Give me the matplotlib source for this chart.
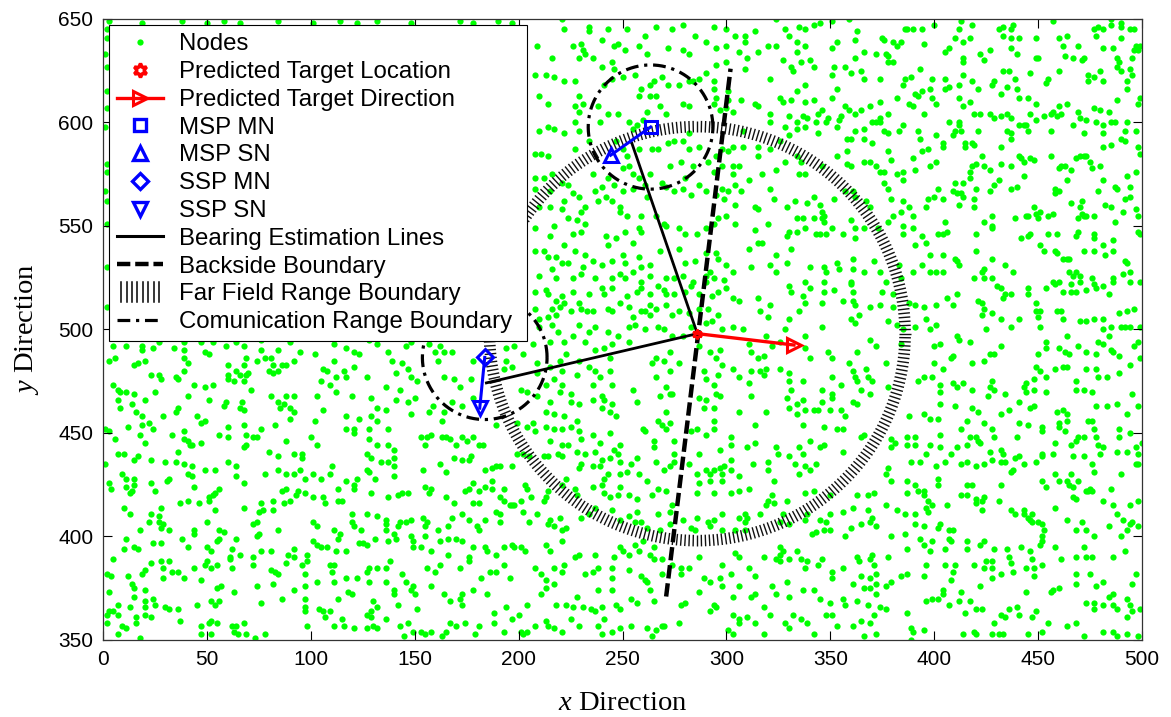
import matplotlib
matplotlib.use("Agg")
import matplotlib.pyplot as plt
import numpy as np
from matplotlib.lines import Line2D
from matplotlib.collections import LineCollection
from matplotlib.legend_handler import HandlerBase

plt.rcParams['font.family'] = ['Liberation Sans', 'DejaVu Sans']
plt.rcParams['mathtext.fontset'] = 'custom'
plt.rcParams['mathtext.rm'] = 'Liberation Serif'
plt.rcParams['mathtext.it'] = 'Liberation Serif:italic'

# ---------------- data ----------------
# deployed sensor nodes (x, y)
node_xy = [
    # strip along the top and left edges
    (3,649),(19,648),(38,649),(50,648),(58,649),(66,648),(84,649),(101,648),(114,649),(122,648),(132,649),
    (148,648),(172,649),(178,648),(190,649),(197,648),
    (2,645),(2,641),(1,633),(2,627),(2,615),(2,607),(1,598),(2,580),(2,576),(1,567),(2,562),(2,551),(2,530),(2,511),
    # x 0-125, y 350-496
    (5,492),(11,492),(19,492),(19,490),(24,491),(27,494),(34,491),(39,494),(39,490),(47,494),(53,494),(59,492),
    (64,494),(68,492),(76,495),(76,490),(84,490),(90,494),(95,489),(102,488),(111,493),(117,491),(121,489),(123,488),
    (3,485),(6,486),(20,485),(15,483),(17,484),(41,484),(39,486),(49,489),(51,488),(60,483),(68,483),(69,486),
    (74,485),(78,486),(81,486),(82,483),(86,483),(88,483),(92,485),(106,481),(108,480),(111,485),(116,480),(121,482),
    (23,478),(27,478),(28,476),(35,477),(36,476),(39,480),(60,478),(60,476),(64,480),(66,478),(69,478),(70,479),
    (63,475),(68,475),(80,480),(82,479),(84,480),(105,475),(112,477),(117,477),(109,473),
    (5,473),(7,471),(8,470),(11,470),(15,469),(25,470),(44,473),(49,472),(53,473),(71,471),(41,468),(51,466),
    (81,468),(88,468),(92,468),(103,468),(112,470),(120,468),
    (7,466),(14,464),(16,460),(20,466),(59,465),(58,463),(67,465),(66,462),(68,461),(84,465),(85,462),(87,464),
    (90,462),(92,460),(36,462),(35,460),(8,462),(19,458),(29,458),(45,458),(47,455),(49,456),(90,457),(106,461),
    (19,454),(22,455),(24,452),(18,449),(12,453),(3,451),(1,452),(33,449),(39,451),(39,447),(41,446),(42,444),
    (47,445),(56,449),(60,453),(60,448),(68,454),(69,449),(72,448),(74,448),(76,452),(83,454),(88,446),(102,456),
    (117,458),(123,457),(117,452),(121,452),(121,450),(100,448),(69,444),(68,443),
    (6,447),(20,445),(36,441),(43,444),(7,440),(10,440),(17,439),(15,437),(23,437),(30,436),(35,436),(39,435),
    (43,434),(49,432),(54,432),(60,436),(64,434),(80,441),(84,439),(92,440),(96,440),(96,438),(103,444),(110,434),(1,435),
    (9,430),(11,428),(15,428),(3,426),(4,423),(11,424),(15,425),(14,422),(23,426),(31,427),(32,428),(41,430),
    (43,429),(44,424),(54,421),(56,423),(64,429),(68,426),(78,430),(84,432),(88,430),(92,430),(95,432),(97,428),
    (101,430),(105,428),(109,430),(113,423),(117,427),(121,425),(122,428),(121,423),
    (13,421),(25,422),(37,416),(41,417),(46,416),(51,419),(51,417),(53,420),(68,414),(76,416),(77,413),(75,412),
    (82,413),(82,417),(87,416),(86,422),(88,423),(90,417),(93,420),(94,422),(97,421),(101,419),(106,419),(107,416),
    (113,417),(115,417),(10,414),(13,411),(28,414),(54,413),(120,411),
    (23,411),(27,410),(27,407),(29,406),(22,407),(28,404),(32,403),(18,403),(44,403),(44,401),(50,407),(56,403),
    (58,402),(55,398),(64,399),(72,406),(74,407),(74,400),(75,401),(84,403),(101,407),(103,405),(111,403),(114,401),
    (113,399),(120,407),(121,405),(124,403),(125,397),
    (11,399),(10,394),(15,395),(17,394),(24,397),(28,397),(38,399),(41,395),(50,395),(52,393),(56,399),(62,394),
    (61,390),(66,391),(72,390),(76,393),(81,393),(92,394),(89,391),(98,391),(101,398),(103,396),(105,395),(108,395),
    (112,393),(117,393),(123,397),
    (5,389),(2,382),(4,381),(12,381),(19,382),(20,384),(23,387),(28,388),(29,385),(32,388),(33,383),(36,383),
    (44,385),(49,386),(50,388),(52,385),(55,386),(61,389),(62,385),(72,386),(81,384),(83,383),(84,382),(88,387),
    (92,390),(96,386),(98,388),(97,382),(109,386),(111,386),(110,383),(117,380),(122,380),
    (14,377),(15,375),(20,374),(24,370),(29,380),(39,380),(47,379),(55,375),(57,376),(63,373),(74,376),(82,377),
    (86,370),(92,374),(97,376),(103,378),(111,378),(113,370),(118,373),(120,372),(3,373),(20,369),
    (7,367),(3,364),(7,362),(15,371),(20,366),(25,367),(30,366),(32,365),(36,365),(45,367),(52,369),(54,367),
    (56,369),(76,368),(97,370),(97,366),(97,364),(104,365),(106,364),(109,364),(107,361),(2,362),(5,364),(13,366),
    (16,361),(20,362),(23,361),
    (2,358),(9,357),(11,356),(7,353),(16,358),(18,351),(37,359),(47,357),(51,358),(52,359),(55,358),(47,353),
    (52,353),(62,357),(64,357),(68,358),(63,354),(65,353),(69,353),(73,351),(78,353),(98,357),(111,357),(115,360),
    (116,357),(121,356),
    # x 125-250, y 350-496
    (128,495),(137,489),(139,485),(132,493),(146,492),(148,494),(157,493),(162,492),(160,489),(164,489),(168,489),
    (161,485),(178,485),(194,491),(198,492),(202,488),(207,493),(215,494),(222,494),(223,488),(232,494),(237,490),
    (241,491),(245,493),(244,486),(229,485),(234,482),
    (127,477),(136,472),(141,479),(144,484),(147,481),(148,477),(143,471),(151,475),(164,477),(169,476),(177,476),
    (172,472),(193,481),(194,485),(197,482),(209,484),(209,479),(215,482),(220,485),(221,480),(217,476),(221,473),
    (213,473),(228,478),(244,480),(245,473),(239,477),(236,473),(237,480),
    (129,467),(132,462),(129,458),(136,461),(141,466),(147,465),(150,467),(148,459),(157,460),(159,463),(164,460),
    (163,456),(168,465),(173,463),(178,467),(201,471),(204,470),(209,468),(215,465),(217,459),(213,460),(225,465),
    (229,464),(236,466),(240,468),(241,466),(240,462),(245,464),(244,460),(247,458),(228,456),(222,458),(220,470),(225,469),
    (132,456),(128,452),(137,452),(128,447),(132,444),(137,444),(140,442),(153,448),(156,448),(158,449),(155,444),
    (163,448),(165,448),(167,447),(170,444),(173,448),(175,446),(178,448),(181,444),(183,444),(189,454),(199,455),
    (204,453),(207,455),(208,451),(213,453),(217,452),(221,452),(225,453),(229,451),(236,449),(244,450),(230,447),
    (215,446),(224,444),(221,444),(239,445),(249,444),(246,442),
    (127,440),(129,438),(134,436),(137,436),(140,434),(140,438),(127,432),(128,431),(140,429),(154,432),(162,435),
    (165,431),(169,438),(173,437),(176,437),(177,439),(187,433),(189,434),(191,434),(184,432),(197,434),(199,440),
    (202,440),(205,439),(212,439),(214,439),(219,440),(221,439),(228,441),(232,440),(237,441),(240,437),(239,434),
    (244,438),(248,440),(249,436),(229,433),(230,435),(236,434),(243,430),(249,430),(241,428),(223,428),
    (131,428),(129,421),(137,419),(142,420),(144,421),(147,421),(155,424),(157,421),(158,423),(165,419),(169,416),
    (176,423),(174,422),(178,426),(181,422),(184,424),(187,427),(187,423),(191,419),(193,423),(203,425),(204,423),
    (206,419),(213,419),(214,422),(221,425),(227,423),(228,420),(236,424),(240,425),(244,419),(248,420),(249,424),
    (241,421),(178,416),(181,416),(193,417),(197,415),(201,417),(212,417),
    (127,411),(132,410),(136,408),(142,405),(143,407),(136,406),(140,401),(146,407),(148,408),(148,400),(155,405),
    (156,407),(161,403),(154,409),(166,405),(168,409),(173,411),(176,408),(180,405),(181,403),(184,408),(189,412),
    (191,411),(191,407),(196,415),(198,415),(202,412),(205,407),(209,411),(214,406),(215,408),(217,405),(221,403),
    (223,404),(220,409),(230,409),(234,411),(237,414),(245,413),(249,408),
    (127,396),(131,399),(136,403),(137,398),(141,399),(149,398),(153,395),(149,395),(155,400),(158,393),(162,398),
    (166,399),(170,399),(173,398),(166,391),(176,390),(178,395),(184,395),(185,393),(189,391),(193,395),(197,396),
    (198,395),(201,395),(203,393),(213,396),(215,393),(221,398),(227,390),(229,391),(237,391),(246,390),(249,395),(250,393),
    (128,385),(127,383),(132,385),(136,385),(138,388),(128,378),(136,378),(144,382),(146,378),(156,385),(160,383),
    (162,386),(172,385),(176,388),(182,380),(186,383),(189,383),(193,386),(196,380),(208,385),(211,382),(217,385),
    (213,379),(221,383),(222,386),(232,382),(236,383),(238,385),(245,385),(245,380),
    (130,369),(132,366),(129,364),(140,374),(140,372),(142,367),(148,374),(149,376),(150,372),(151,365),(158,376),
    (164,372),(167,369),(172,370),(173,367),(173,372),(178,374),(185,372),(188,363),(194,366),(200,362),(204,367),
    (211,372),(213,375),(217,377),(218,367),(223,367),(226,366),(228,371),(231,366),(235,365),(237,364),(240,366),
    (245,374),(247,367),(249,365),(238,374),
    (127,362),(129,361),(130,357),(127,356),(132,356),(136,360),(143,357),(147,358),(149,354),(153,354),(155,353),
    (145,352),(158,354),(163,352),(165,354),(167,358),(170,357),(174,358),(179,353),(181,357),(188,358),(193,354),
    (197,360),(201,354),(202,353),(204,354),(208,357),(213,359),(214,357),(217,356),(221,354),(225,360),(229,357),
    (238,357),(241,360),(240,353),(245,354),(249,356),
    # x 250-375, y 350-496
    (253,494),(264,484),(266,486),(270,485),(273,489),(277,484),(287,492),(292,489),(297,490),(295,486),(311,493),
    (312,489),(315,486),(318,487),(322,492),(326,494),(338,491),(340,486),(349,489),(351,486),(359,484),(363,489),
    (369,495),(372,492),
    (255,471),(266,477),(271,472),(273,480),(274,469),(289,480),(290,476),(294,473),(296,478),(295,469),(298,483),
    (303,481),(306,477),(311,474),(312,480),(316,480),(318,478),(319,481),(326,481),(330,479),(330,475),(331,471),
    (337,475),(346,471),(351,477),(351,469),(355,473),(361,480),(362,477),(363,475),(367,481),(368,477),(370,475),
    (365,471),(369,469),(361,465),
    (257,465),(268,468),(273,469),(271,460),(267,456),(269,454),(273,455),(287,467),(290,466),(289,462),(294,462),
    (297,468),(294,456),(306,460),(312,468),(319,460),(329,467),(330,462),(334,464),(337,466),(338,461),(342,461),
    (344,461),(346,465),(350,461),(351,467),(355,461),(357,458),(363,464),(356,452),(353,452),(347,453),(337,454),
    (314,454),(334,459),
    (260,452),(265,446),(265,443),(261,451),(271,452),(275,446),(275,440),(283,451),(286,452),(290,449),(294,452),
    (287,440),(297,442),(302,448),(302,444),(310,443),(314,445),(324,443),(325,440),(330,439),(335,443),(337,440),
    (340,446),(345,443),(347,444),(356,441),(365,448),(366,449),
    (252,431),(257,438),(254,435),(258,430),(262,427),(266,436),(270,432),(273,434),(275,436),(282,435),(290,432),
    (292,430),(294,432),(297,433),(299,434),(302,437),(302,432),(298,430),(306,429),(313,435),(320,436),(320,432),
    (323,427),(333,435),(335,430),(338,434),(340,432),(343,435),(287,426),(292,427),(298,427),(286,430),
    (253,420),(257,418),(264,420),(267,423),(271,422),(274,415),(273,412),(286,421),(294,421),(302,421),(306,422),
    (311,423),(320,417),(322,420),(319,415),(323,416),(329,417),(338,421),(342,422),(350,420),(361,414),(363,420),
    (368,420),(371,421),(368,413),(370,409),(257,412),(253,410),(267,411),(279,408),(286,409),(291,407),(294,408),
    (298,411),(306,409),(309,411),(310,409),(309,407),(316,411),(327,411),(339,411),(345,408),(348,407),(350,411),(356,412),
    (256,407),(259,407),(262,404),(268,403),(273,406),(283,404),(285,403),(292,405),(298,403),(304,403),(309,403),
    (326,407),(330,406),(338,408),(341,401),(343,402),(347,403),(350,403),(357,400),(360,404),(365,406),(369,407),
    (372,405),(260,398),(256,396),(265,395),(326,395),(327,393),(334,393),
    (253,391),(258,393),(263,391),(265,389),(269,389),(274,386),(278,385),(282,385),(287,390),(298,386),(302,382),
    (304,392),(306,390),(311,385),(314,381),(318,390),(324,389),(326,391),(326,388),(330,389),(336,389),(338,385),
    (339,388),(344,386),(346,389),(351,383),(351,380),(356,385),(363,390),(364,388),(370,391),(369,389),(371,386),
    (372,382),(369,380),(365,381),(253,384),(259,381),(261,379),(262,378),(269,382),(278,382),(289,380),(297,380),
    (254,370),(257,368),(263,374),(265,369),(278,367),(280,368),(287,373),(292,378),(294,367),(298,376),(303,371),
    (306,376),(312,371),(314,372),(318,366),(322,376),(324,372),(329,378),(330,371),(337,374),(342,374),(345,370),
    (350,368),(356,370),(357,367),(361,377),(366,375),(369,375),(372,372),(372,377),(368,367),(374,366),(363,369),
    (254,357),(262,356),(266,355),(269,357),(270,357),(277,358),(264,352),(292,364),(295,366),(303,362),(306,358),
    (306,360),(310,361),(314,358),(318,353),(321,362),(328,358),(330,356),(332,362),(336,360),(339,358),(342,353),
    (348,362),(351,362),(353,357),(361,357),(365,359),(369,358),(371,362),(372,353),(366,352),(303,353),(301,355),
    # x 375-500, y 350-496
    (384,493),(400,492),(403,493),(412,495),(417,494),(432,492),(454,494),(454,491),(450,488),(460,491),(463,489),
    (465,488),(469,492),(473,489),(479,494),(481,493),(478,488),(485,490),(486,489),(489,487),(496,492),(498,494),
    (499,486),(408,486),(409,487),(424,485),(427,488),(429,488),
    (377,484),(400,484),(404,481),(418,484),(449,482),(451,480),(454,477),(458,481),(462,482),(464,482),(473,481),
    (478,481),(483,477),(489,479),(494,483),(392,475),(395,477),(399,477),(409,474),(414,474),(428,475),(444,474),
    (448,476),(468,475),
    (378,472),(403,473),(403,470),(411,472),(418,471),(427,472),(429,471),(426,468),(434,469),(443,472),(444,470),
    (448,471),(454,470),(468,471),(472,471),(476,470),(479,477),(495,469),(403,464),(410,463),(418,462),(421,460),
    (432,459),(436,461),(441,465),(446,462),(448,463),(459,460),(462,461),(464,459),(478,463),(483,463),(488,464),
    (493,459),(498,463),
    (388,458),(395,459),(398,457),(402,457),(416,456),(424,455),(428,452),(441,455),(445,454),(460,455),(460,453),
    (464,456),(474,456),(476,456),(477,452),(489,452),(379,447),(387,448),(391,448),(403,449),(413,452),(417,448),
    (420,448),(422,445),(429,448),(440,448),(452,453),(452,451),(463,451),(469,448),(468,446),(478,448),(479,444),
    (489,448),(494,450),
    (381,445),(379,443),(387,444),(391,444),(398,444),(403,443),(408,440),(411,443),(416,444),(421,446),(427,441),
    (432,442),(433,440),(434,436),(439,438),(441,439),(449,436),(452,440),(452,439),(458,445),(457,440),(466,444),
    (467,439),(472,448),(472,439),(476,435),(480,440),(481,443),(488,441),(493,441),(497,443),(498,440),(500,445),
    (497,435),(389,436),(393,436),(396,440),(401,434),(405,436),(413,435),(416,436),(420,434),(424,435),(428,437),
    (432,436),(437,431),
    (378,433),(377,430),(379,427),(387,427),(391,425),(395,422),(402,428),(402,425),(416,425),(418,425),(432,425),
    (438,432),(443,435),(452,427),(454,424),(458,430),(460,427),(464,427),(465,425),(467,424),(466,430),(469,427),
    (474,422),(475,423),(477,431),(485,423),(490,430),(498,435),
    (377,415),(387,421),(382,413),(386,411),(391,411),(392,422),(395,420),(397,417),(396,414),(397,412),(399,415),
    (406,415),(413,420),(416,420),(420,418),(420,416),(423,417),(424,419),(423,413),(431,417),(437,413),(439,411),
    (443,413),(443,411),(445,409),(446,408),(450,407),(447,411),(458,414),(464,408),(467,419),(468,418),(473,422),
    (476,422),(481,417),(486,415),(488,411),(491,408),(494,415),(498,417),(495,407),
    (391,406),(395,405),(403,406),(402,404),(407,403),(409,403),(379,400),(386,401),(393,399),(399,398),(398,393),
    (407,399),(408,398),(416,398),(424,398),(422,396),(447,407),(452,406),(453,403),(452,400),(452,398),(458,395),
    (468,403),(471,407),(473,403),(477,400),(484,405),(490,400),(493,403),(494,406),(498,405),
    (378,390),(387,394),(395,396),(405,394),(416,394),(429,394),(435,394),(436,390),(437,387),(442,395),(447,389),
    (446,393),(451,396),(461,389),(468,390),(472,395),(473,390),(476,390),(486,390),(492,393),(396,386),(405,386),
    (410,386),(409,383),(419,386),(424,385),(425,388),(428,388),(428,385),(432,382),(438,383),(444,385),(448,385),
    (448,381),(452,386),
    (377,376),(379,378),(384,381),(387,382),(395,381),(404,374),(404,372),(408,379),(413,373),(422,376),(428,380),
    (444,373),(456,373),(457,374),(460,375),(468,382),(468,377),(475,382),(478,376),(481,378),(484,371),(486,372),
    (495,377),(497,382),(396,369),(399,370),(402,370),(407,367),(412,369),(417,369),(377,365),(387,363),
    (473,368),(477,368),(477,365),(481,367),(486,367),(488,365),(493,370),(494,367),(493,361),(495,364),(499,365),
    (415,363),(420,365),(423,365),(432,362),(434,361),(436,365),(440,366),(441,362),(447,361),(449,364),(455,358),
    (464,357),(468,358),(389,356),(390,354),(395,355),(414,353),(419,354),(420,353),(429,358),(428,353),(431,353),
    (433,353),(445,353),(452,354),(472,352),(481,354),(486,354),(488,352),(493,353),(498,352),(389,350),
    # x 206-305, y 496-650
    (221,650),(222,645),(234,646),(234,644),(240,640),(243,645),(246,637),(248,638),(252,645),(261,642),(266,646),
    (274,645),(279,647),(285,642),(290,639),(294,646),(300,645),(304,642),(209,637),(216,631),(226,637),(229,631),
    (230,638),(231,635),(232,633),(236,631),(240,627),(245,629),(246,626),(251,635),(258,637),(262,633),(272,636),
    (279,635),(282,633),(295,636),(300,637),(210,613),
    (208,623),(213,623),(217,622),(222,620),(227,620),(229,613),(241,618),(245,621),(250,622),(256,623),(259,616),
    (263,618),(263,613),(266,613),(269,622),(272,618),(277,618),(282,620),(284,620),(287,621),(290,624),(294,620),
    (295,628),(300,629),(294,616),(295,612),(301,615),(258,613),(265,620),
    (214,609),(227,608),(229,605),(231,609),(238,608),(239,600),(243,604),(248,604),(253,600),(255,597),(257,599),
    (260,601),(262,605),(268,608),(271,604),(279,609),(282,608),(294,609),(297,606),(300,607),(301,611),(303,605),
    (214,598),(210,596),(217,597),(222,595),(227,600),(229,596),(282,595),
    (208,585),(211,585),(214,584),(227,587),(234,591),(247,591),(250,587),(252,584),(258,587),(264,587),(267,587),
    (272,590),(275,591),(279,591),(282,587),(287,588),(298,587),(301,586),(303,588),(295,584),(273,579),(278,581),
    (284,579),(291,581),(294,576),(298,579),(303,579),(303,575),(280,573),(253,579),(250,578),(255,575),(258,573),
    (263,575),(261,570),
    (208,573),(212,573),(216,575),(208,568),(215,567),(221,571),(224,570),(222,562),(226,566),(229,564),(236,575),
    (237,567),(240,569),(242,564),(243,573),(246,570),(250,567),(255,568),(262,564),(269,571),(271,569),(275,567),
    (279,568),(283,565),(287,570),(290,567),(295,565),(298,568),(299,563),(301,567),(304,570),
    (210,559),(215,559),(221,558),(224,554),(228,553),(230,557),(232,559),(238,562),(245,562),(249,559),(249,557),
    (252,555),(259,555),(266,555),(270,551),(271,550),(277,549),(280,546),(286,546),(290,549),(294,551),(296,554),
    (300,555),(304,560),(304,551),(208,549),(215,545),(217,550),(222,541),(226,546),(230,547),(232,551),(242,545),
    (243,541),(247,544),(251,547),(255,542),(258,549),(259,547),
    (208,538),(212,538),(214,535),(218,535),(221,532),(224,532),(227,538),(232,536),(231,530),(236,533),(240,531),
    (245,533),(250,536),(251,532),(258,535),(259,530),(263,531),(268,538),(277,539),(280,532),(285,533),(290,537),
    (292,528),(295,537),(296,534),(300,531),(303,528),(210,526),(216,529),(218,525),(226,525),(230,527),(237,525),
    (245,525),(249,527),(251,525),(255,528),(259,523),(263,526),(271,525),(275,525),(279,526),(284,523),(290,526),
    (290,523),(294,525),(299,524),
    (208,518),(213,519),(214,517),(218,514),(221,516),(222,513),(226,518),(229,513),(234,517),(240,520),(241,517),
    (245,520),(252,516),(257,518),(259,520),(263,517),(267,521),(270,519),(271,517),(275,517),(280,518),(283,521),
    (287,517),(293,516),(296,518),(300,520),(303,515),(208,510),(210,505),(214,506),(216,510),(218,507),(220,511),
    (225,509),(230,510),(233,509),(236,509),(243,510),(245,509),(249,513),(253,511),(255,506),(259,509),(261,509),
    (263,512),(266,510),(263,507),(271,512),(274,507),(277,509),(282,508),(287,510),(291,510),(296,507),(210,501),
    (216,502),(219,499),(226,497),(229,502),(234,499),(237,501),(243,499),(248,497),(253,501),(256,502),(261,500),
    (267,501),(270,500),(274,497),(279,497),(283,501),(290,503),(293,504),(298,500),(303,501),
    # x 305-402, y 496-650
    (324,650),(328,645),(330,642),(335,646),(338,645),(342,647),(345,648),(351,649),(359,650),(363,644),(362,640),
    (353,639),(309,642),(309,639),(314,644),(306,634),(315,634),(320,637),(324,637),(334,639),(338,637),(351,636),
    (366,634),(372,633),(375,641),(376,640),(380,639),(382,637),(384,639),(386,645),(387,645),(390,645),(394,645),
    (395,638),(400,647),
    (310,631),(309,626),(321,621),(327,630),(331,627),(332,625),(334,634),(336,629),(340,630),(342,627),(338,618),
    (351,623),(352,627),(357,627),(360,624),(362,631),(365,625),(366,621),(374,621),(377,633),(378,632),(378,629),
    (380,629),(393,626),(385,618),(386,621),(389,622),(392,613),(399,621),(314,609),(307,611),
    (315,608),(321,604),(326,612),(327,610),(331,611),(330,603),(334,615),(338,610),(342,611),(344,604),(346,606),
    (351,612),(353,616),(357,608),(359,606),(362,604),(365,606),(369,608),(374,610),(382,612),(388,609),(390,608),
    (391,614),(394,615),(398,616),(395,604),(401,609),(399,612),(370,600),
    (308,596),(308,588),(315,588),(321,600),(326,591),(328,598),(330,594),(334,597),(334,600),(338,598),(337,603),
    (339,602),(343,600),(344,595),(348,600),(349,602),(353,598),(354,601),(355,603),(358,592),(360,592),(362,596),
    (366,597),(366,592),(370,590),(372,600),(374,600),(374,602),(378,604),(376,596),(378,595),(383,596),(385,599),
    (392,596),(393,592),(401,594),
    (306,579),(315,584),(321,587),(324,577),(328,581),(334,584),(336,581),(338,575),(346,579),(353,584),(358,586),
    (358,580),(360,579),(366,581),(369,581),(372,579),(374,576),(378,586),(379,582),(382,575),(385,576),(376,576),
    (385,572),(391,577),(394,586),(397,587),(398,579),(401,581),(390,583),(311,572),(317,575),(321,568),(335,575),
    (307,567),(314,559),(315,558),(323,563),(329,559),(333,562),(334,554),(339,561),(342,564),(345,560),(346,557),
    (347,555),(347,552),(352,563),(357,567),(361,567),(362,564),(367,562),(369,559),(376,571),(378,568),(379,563),
    (380,555),(385,562),(388,559),(390,555),(396,559),(397,563),(400,564),(402,568),
    (314,548),(315,542),(317,542),(320,551),(329,545),(330,547),(334,547),(337,554),(338,549),(342,554),(343,546),
    (345,546),(348,546),(346,554),(351,549),(356,546),(360,553),(362,549),(362,544),(366,549),(373,549),(378,552),
    (384,557),(390,549),(394,545),(391,541),(396,542),(402,546),(385,550),(385,546),(311,539),(324,536),
    (312,530),(321,531),(324,528),(329,532),(331,539),(340,530),(347,530),(348,528),(353,532),(354,529),(361,534),
    (361,529),(360,523),(366,528),(371,533),(374,528),(377,523),(383,531),(384,525),(390,528),(394,531),(398,536),
    (398,528),(401,528),(340,520),(330,521),(331,518),(338,523),
    (306,514),(315,515),(316,509),(321,512),(320,506),(330,505),(335,509),(337,516),(338,513),(346,513),(347,518),
    (347,523),(352,519),(356,514),(360,522),(361,514),(361,518),(362,512),(360,505),(362,503),(364,507),(369,511),
    (374,512),(375,518),(380,517),(380,511),(388,513),(391,512),(395,511),(401,512),(378,504),(382,502),(391,501),
    (385,500),(396,505),(398,500),(401,502),(328,500),(346,501),(338,497),(319,497),(308,500),
    # x 402-500, y 496-650
    (413,649),(418,647),(412,645),(410,641),(414,639),(417,641),(431,645),(433,646),(433,642),(437,645),(437,641),
    (441,641),(438,647),(449,641),(457,649),(460,641),(464,642),(477,645),(479,646),(481,645),(478,642),(485,650),
    (485,647),(490,646),(490,648),(494,645),(496,645),(490,641),
    (405,634),(407,636),(414,631),(414,629),(422,633),(424,630),(427,635),(437,636),(440,633),(449,631),(450,631),
    (462,637),(463,632),(467,631),(469,637),(471,630),(472,631),(481,636),(486,636),(488,631),(495,631),(496,635),
    (497,637),(498,635),(499,637),
    (405,621),(405,616),(407,617),(412,618),(414,623),(418,620),(421,616),(428,618),(429,620),(433,625),(436,625),
    (432,614),(435,617),(439,621),(440,616),(446,624),(455,621),(454,619),(460,625),(474,623),(474,620),(477,622),
    (480,625),(481,620),(488,627),(489,629),(490,625),(494,626),(493,620),(493,616),(495,623),
    (412,612),(414,608),(417,610),(419,604),(422,604),(441,612),(445,612),(449,609),(464,609),(460,608),(457,605),
    (456,604),(459,603),(461,604),(469,605),(470,602),(477,607),(480,606),(484,605),(488,611),(498,609),(499,612),
    (427,604),(429,602),(432,603),(435,604),(437,602),(446,604),(449,601),(453,603),(444,599),(445,596),(441,599),
    (407,600),(412,600),(412,599),
    (410,596),(413,596),(409,594),(421,596),(435,596),(437,595),(437,592),(443,599),(456,596),(467,599),(472,595),
    (473,601),(478,600),(481,599),(481,595),(485,600),(487,600),(493,600),(492,596),(492,591),(497,596),(490,592),
    (404,590),(404,588),(415,590),(418,590),(415,588),(419,589),(432,588),(470,584),(473,584),(475,581),(481,588),
    (485,589),(498,588),
    (410,571),(411,566),(414,571),(417,573),(417,576),(418,579),(420,580),(423,584),(424,579),(420,568),(413,566),
    (409,567),(427,567),(429,570),(431,572),(427,577),(432,580),(437,579),(437,568),(440,569),(441,584),(442,583),
    (443,581),(443,574),(446,583),(448,582),(456,584),(460,578),(461,579),(463,579),(464,572),(466,577),(468,583),
    (472,584),(476,578),(480,579),(481,572),(479,567),(487,569),(488,568),(493,574),(497,576),(494,569),(494,564),
    (492,563),(499,585),
    (404,563),(412,560),(414,564),(419,563),(419,559),(424,552),(428,555),(428,550),(428,549),(439,554),(444,555),
    (445,555),(448,559),(449,556),(450,554),(451,557),(455,555),(457,556),(458,566),(460,567),(458,568),(466,561),
    (470,559),(471,562),(471,556),(472,555),(469,554),(473,555),(477,555),(482,560),(485,559),(487,552),(491,557),
    (497,558),(498,555),
    (405,552),(404,546),(406,547),(420,546),(442,544),(445,545),(446,546),(451,541),(455,546),(459,546),(464,534),
    (468,545),(469,547),(477,546),(477,544),(472,538),(477,538),(481,541),(486,543),(486,538),(482,536),(492,533),
    (493,532),(494,528),(498,547),(499,546),
    (404,536),(404,528),(410,534),(411,533),(412,531),(420,538),(424,529),(423,528),(428,534),(434,531),(438,528),
    (453,538),(458,538),(459,537),(462,534),(465,534),(465,528),(468,528),(467,526),(470,526),(470,523),(476,525),
    (477,522),(486,525),(486,523),(491,527),(494,523),(499,523),(419,525),(424,525),(428,525),(430,521),(432,520),
    (434,517),(437,517),
    (406,515),(411,517),(409,512),(421,514),(423,513),(424,510),(428,508),(432,505),(423,507),(433,515),(445,520),
    (445,517),(449,513),(449,509),(451,509),(450,506),(454,520),(457,523),(458,522),(460,523),(462,518),(466,522),
    (466,518),(468,518),(473,519),(478,520),(481,521),(484,517),(489,508),(493,509),(496,510),(411,497),(425,500),
    (437,501),(441,505),(451,501),(459,509),(461,509),(462,505),(464,497),(470,504),(473,504),(477,505),(481,505),
    (481,500),(485,501),(490,501),(492,501),(494,501),(499,501),(484,497),
]

# estimated target state and sensing-pair nodes
target = (286.0, 498.0)
heading_tip = (332.5, 492.5)
msp_mn = (263.5, 597.8)
msp_sn = (244.3, 584.2)
ssp_mn = (183.7, 486.5)
ssp_sn = (181.3, 462.0)
msp_bearing_start = (254.5, 590.0)
ssp_bearing_start = (184.5, 474.2)
backside_ends = [(271.0, 371.0), (302.0, 626.0)]
far_field_radius = 100.0
comm_radius = 30.0

x_ticks = [0, 50, 100, 150, 200, 250, 300, 350, 400, 450, 500]
y_ticks = [350, 400, 450, 500, 550, 600, 650]

legend_labels = [
    "Nodes",
    "Predicted Target Location",
    "Predicted Target Direction",
    "MSP MN",
    "MSP SN",
    "SSP MN",
    "SSP SN",
    "Bearing Estimation Lines",
    "Backside Boundary",
    "Far Field Range Boundary",
    "Comunication Range Boundary ",
]

# ---------------- styling ----------------
GREEN = (0.0, 1.0, 0.0)
BLUE = (0.0, 0.0, 1.0)
RED = (1.0, 0.0, 0.0)
HEX = (6, 1, 0)
DASH_DOT = (4, 1.8, 1, 1.8)
DASHED = (3, 1.1)

fig = plt.figure(figsize=(11.71, 7.17), dpi=100, facecolor="white")
ax = fig.add_axes([103 / 1171, 1 - 640 / 717, 1039 / 1171, 621 / 717])

node_x = [p[0] for p in node_xy]
node_y = [p[1] for p in node_xy]
ax.plot(node_x, node_y, linestyle="none", marker="o", ms=4.5, mew=0,
        color=GREEN, zorder=1)

# far field boundary drawn as radial ticks around the predicted target
theta = np.linspace(0, 2 * np.pi, 320, endpoint=False)
half = 2.8
segs = [[(target[0] + (far_field_radius - half) * np.cos(t),
          target[1] + (far_field_radius - half) * np.sin(t)),
         (target[0] + (far_field_radius + half) * np.cos(t),
          target[1] + (far_field_radius + half) * np.sin(t))] for t in theta]
ax.add_collection(LineCollection(segs, colors="#111111", linewidths=1.0, zorder=3))

# communication range around each master node
circ = np.linspace(0, 2 * np.pi, 400)
for c in (msp_mn, ssp_mn):
    ax.plot(c[0] + comm_radius * np.cos(circ), c[1] + comm_radius * np.sin(circ),
            color="k", lw=2.3, dashes=DASH_DOT, zorder=4)

# backside boundary
ax.plot([backside_ends[0][0], backside_ends[1][0]],
        [backside_ends[0][1], backside_ends[1][1]],
        color="k", lw=3.2, dashes=DASHED, zorder=4)

# bearing estimation lines
for s in (msp_bearing_start, ssp_bearing_start):
    ax.plot([s[0], target[0]], [s[1], target[1]], color="k", lw=2.0, zorder=5)

# sensing pairs
ax.plot([msp_mn[0], msp_sn[0]], [msp_mn[1], msp_sn[1]], color=BLUE, lw=2.2, zorder=6)
ax.plot([ssp_mn[0], ssp_sn[0]], [ssp_mn[1], ssp_sn[1]], color=BLUE, lw=2.2, zorder=6)
ax.plot(*msp_mn, marker="s", ms=8.5, mfc="none", mec=BLUE, mew=2.2, zorder=7)
ax.plot(*msp_sn, marker="^", ms=9.5, mfc="none", mec=BLUE, mew=2.2, zorder=7)
ax.plot(*ssp_mn, marker="D", ms=8, mfc="none", mec=BLUE, mew=2.2, zorder=7)
ax.plot(*ssp_sn, marker="v", ms=9.5, mfc="none", mec=BLUE, mew=2.2, zorder=7)

# predicted target location and heading
ax.plot([target[0], heading_tip[0]], [target[1], heading_tip[1]], color=RED, lw=2.4, zorder=6)
ax.plot(*heading_tip, marker=">", ms=9.5, mfc="none", mec=RED, mew=2.2, zorder=7)
ax.plot(*target, marker=HEX, ms=7, mfc="none", mec=RED, mew=1.8, zorder=7)

ax.set_xlim(0, 500)
ax.set_ylim(350, 650)
ax.set_xticks(x_ticks)
ax.set_yticks(y_ticks)
ax.tick_params(direction="in", length=6.5, width=0.8, top=True, right=True,
               labelsize=15, pad=7, colors="black")
for sp in ax.spines.values():
    sp.set_linewidth(0.9)
    sp.set_color("#333333")

ax.set_xlabel(r"$x$ Direction", fontsize=20.5, family="Liberation Serif")
ax.set_ylabel(r"$y$ Direction", fontsize=20.5, family="Liberation Serif")
ax.xaxis.set_label_coords(0.5, -0.103)
ax.xaxis.label.set_va("center")
ax.yaxis.set_label_coords(-0.073, 0.5)
ax.yaxis.label.set_va("center")


class RadialTickHandler(HandlerBase):
    def create_artists(self, legend, orig_handle, xdescent, ydescent,
                       width, height, fontsize, trans):
        xs = np.linspace(-xdescent + 0.08 * width, -xdescent + 0.92 * width, 8)
        y0 = -ydescent - 0.1 * height
        y1 = -ydescent + 1.1 * height
        return [Line2D([x, x], [y0, y1], color="k", lw=1.1, transform=trans) for x in xs]


far_field_proxy = LineCollection([])
handles = [
    Line2D([], [], ls="none", marker="o", ms=4.5, mew=0, color=GREEN),
    Line2D([], [], ls="none", marker=HEX, ms=10, mfc="none", mec=RED, mew=2.5),
    Line2D([], [], color=RED, lw=2.4, marker=">", ms=9.5, mfc="none", mec=RED, mew=2.2),
    Line2D([], [], ls="none", marker="s", ms=8.5, mfc="none", mec=BLUE, mew=2.4),
    Line2D([], [], ls="none", marker="^", ms=9.5, mfc="none", mec=BLUE, mew=2.4),
    Line2D([], [], ls="none", marker="D", ms=8.5, mfc="none", mec=BLUE, mew=2.4),
    Line2D([], [], ls="none", marker="v", ms=9.5, mfc="none", mec=BLUE, mew=2.4),
    Line2D([], [], color="k", lw=2.2),
    Line2D([], [], color="k", lw=3.2, dashes=DASHED),
    far_field_proxy,
    Line2D([], [], color="k", lw=2.3, dashes=DASH_DOT),
]
leg = ax.legend(handles, legend_labels, loc="upper left",
                bbox_to_anchor=(109 / 1171, 1 - 25 / 717), bbox_transform=fig.transFigure,
                borderaxespad=0, fontsize=17.3, frameon=True, fancybox=False,
                framealpha=1, edgecolor="black", borderpad=0.35, labelspacing=0.24,
                handlelength=1.9, handletextpad=0.65, numpoints=1,
                handler_map={far_field_proxy: RadialTickHandler()})
leg.get_frame().set_linewidth(0.8)
leg.set_zorder(20)

fig.savefig("out.png", dpi=100, facecolor="white")
